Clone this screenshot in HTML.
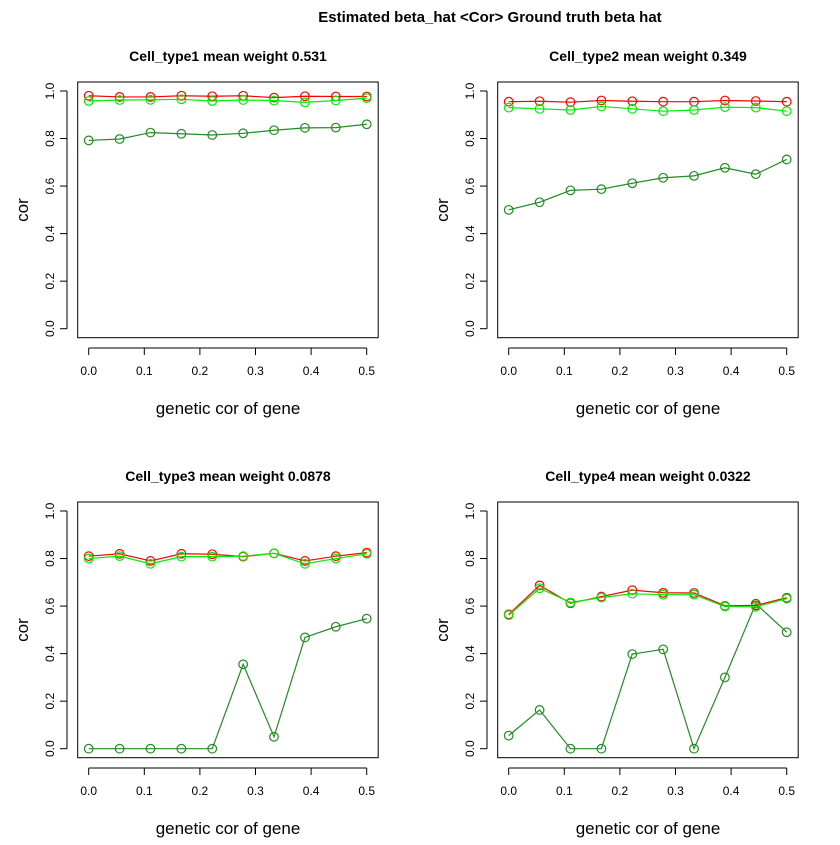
<!DOCTYPE html>
<html><head><meta charset="utf-8"><style>
body{margin:0;background:#fff}
svg text{font-family:"Liberation Sans",sans-serif}
</style></head><body>
<svg id="c" width="840" height="840" viewBox="0 0 840 840">
<text x="490" y="22" font-size="15" font-weight="bold" text-anchor="middle">Estimated beta_hat &lt;Cor&gt; Ground truth beta hat</text>
</svg>
<script>
const xVals=[0,0.0556,0.1111,0.1667,0.2222,0.2778,0.3333,0.3889,0.4444,0.5];
const xTicks=[0,0.1,0.2,0.3,0.4,0.5];
const yTicks=[0,0.2,0.4,0.6,0.8,1.0];
const titles=["Cell_type1 mean weight 0.531","Cell_type2 mean weight 0.349","Cell_type3 mean weight 0.0878","Cell_type4 mean weight 0.0322"];
const redSeries=[
[.98,.975,.975,.98,.978,.98,.972,.978,.977,.977],
[.955,.957,.953,.96,.957,.955,.955,.96,.958,.955],
[.81,.82,.79,.82,.818,.808,.822,.79,.81,.825],
[.565,.687,.612,.64,.667,.656,.655,.601,.603,.635]];
const limeSeries=[
[.958,.962,.963,.965,.958,.962,.96,.952,.96,.97],
[.93,.925,.92,.935,.925,.915,.92,.932,.93,.915],
[.80,.81,.778,.808,.808,.81,.822,.778,.8,.82],
[.562,.675,.615,.636,.652,.648,.648,.598,.597,.631]];
const darkSeries=[
[.792,.798,.825,.82,.815,.822,.835,.845,.846,.86],
[.50,.532,.582,.587,.612,.635,.643,.677,.65,.712],
[0,0,0,0,0,.355,.05,.468,.513,.547],
[.055,.163,0,0,.398,.418,0,.3,.61,.49]];
const svg=document.getElementById('c');
const NS='http://www.w3.org/2000/svg';
function mk(t,a,p){const e=document.createElementNS(NS,t);for(const k in a)e.setAttribute(k,a[k]);(p||svg).appendChild(e);return e;}
for(let p=0;p<4;p++){
 const ox=(p%2)*420, oy=Math.floor(p/2)*420;
 const g=mk('g',{});
 
 
 const sx=v=>ox+88.7+v/0.5*278;
 const sy=v=>oy+328.7-v*237.7;
 const box=mk('rect',{x:ox+77.7,y:oy+82,width:300.5,height:255.7,fill:'none',stroke:'#000','stroke-width':1},g);
 
 
 const t=mk('text',{x:ox+228,y:oy+61,'font-size':14,'font-weight':'bold','text-anchor':'middle'},g);
 t.textContent=titles[p];
 
 
 mk('line',{x1:sx(0),x2:sx(0.5),y1:oy+348,y2:oy+348,stroke:'#000'},g);
 xTicks.forEach(v=>{
  mk('line',{x1:sx(v),x2:sx(v),y1:oy+348,y2:oy+355,stroke:'#000'},g);
  const l=mk('text',{x:sx(v),y:oy+375,'font-size':12,'text-anchor':'middle'},g);
  l.textContent=v.toFixed(1);
  
  
 });
 mk('line',{x1:ox+67,x2:ox+67,y1:sy(0),y2:sy(1),stroke:'#000'},g);
 yTicks.forEach(v=>{
  mk('line',{x1:ox+60,x2:ox+67,y1:sy(v),y2:sy(v),stroke:'#000'},g);
  const l=mk('text',{x:0,y:0,'font-size':12,'text-anchor':'middle',transform:`translate(${ox+54},${sy(v)}) rotate(-90)`},g);
  l.textContent=v.toFixed(1);
  
  
 });
 const xl=mk('text',{x:ox+228,y:oy+414,'font-size':17,'text-anchor':'middle'},g);
 xl.textContent='genetic cor of gene';
 
 
 const yl=mk('text',{x:0,y:0,'font-size':17,'text-anchor':'middle',transform:`translate(${ox+28},${oy+210}) rotate(-90)`},g);
 yl.textContent='cor';
 
 
 [[darkSeries[p],'#228B22','dark-green-series'],[redSeries[p],'#ff0000','red-series'],[limeSeries[p],'#00ee00','lime-series']].forEach(([arr,col,nm])=>{
  const pl=mk('polyline',{points:arr.map((v,i)=>sx(xVals[i])+','+sy(v)).join(' '),fill:'none',stroke:col,'stroke-width':1.2},g);
  
  
  arr.forEach((v,i)=>{
   const c=mk('circle',{cx:sx(xVals[i]),cy:sy(v),r:4.3,fill:'none',stroke:col,'stroke-width':1.2},g);
   
   
  });
 });
}
</script>
</body></html>
